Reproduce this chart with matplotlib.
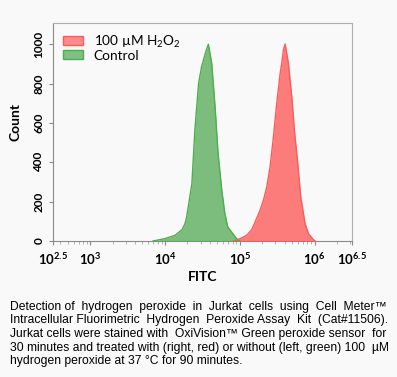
import numpy as np
import matplotlib
matplotlib.use('Agg')
import matplotlib.pyplot as plt
from matplotlib.patches import Patch
from matplotlib.ticker import FixedLocator, LogLocator, NullFormatter

# histogram outlines: log10(FITC) vs count
green_log_fitc = [3.84, 4.00, 4.135, 4.23, 4.27, 4.29, 4.36, 4.40, 4.45, 4.49,
                  4.54, 4.58, 4.625, 4.67, 4.71, 4.76, 4.80, 4.84, 4.89, 4.94, 4.98, 5.00]
green_count = [0, 12, 29, 58, 90, 122, 290, 563, 801, 886,
               954, 1000, 903, 682, 445, 258, 141, 71, 46, 20, 3, 0]

red_log_fitc = [4.915, 5.004, 5.093, 5.160, 5.205, 5.271, 5.316, 5.361, 5.405, 5.450,
                5.494, 5.54, 5.561, 5.583, 5.606, 5.650, 5.695, 5.730, 5.775, 5.815,
                5.873, 5.918, 5.984, 6.007]
red_count = [0, 12, 29, 58, 97, 156, 207, 275, 377, 529,
             699, 852, 903, 970, 1001, 903, 733, 563, 394, 224,
             88, 37, 7, 0]

x_tick_exps = ['2.5', '3', '4', '5', '6', '6.5']
y_ticks = [0, 200, 400, 600, 800, 1000]
series_labels = ['100 µM H$_2$O$_2$', 'Control']

caption_lines = [
    'Detection of hydrogen peroxide in Jurkat cells using Cell Meter\u2122',
    'Intracellular Fluorimetric Hydrogen Peroxide Assay Kit (Cat#11506).',
    'Jurkat cells were stained with OxiVision\u2122 Green peroxide sensor for',
    '30 minutes and treated with (right, red) or without (left, green) 100 µM',
    'hydrogen peroxide at 37 °C for 90 minutes.',
]

plt.rcParams['font.family'] = ['Lato', 'DejaVu Sans']
plt.rcParams['mathtext.fontset'] = 'custom'
plt.rcParams['mathtext.rm'] = 'Lato'
plt.rcParams['mathtext.bf'] = 'Lato:bold'
plt.rcParams['mathtext.it'] = 'Lato:italic'

bg = '#f9f9f9'
W, H = 397, 377
fig = plt.figure(figsize=(W / 100, H / 100), dpi=100, facecolor=bg)
ax = fig.add_axes([52.7 / W, 1 - 241 / H, (352 - 52.7) / W, (241 - 23.3) / H])
ax.set_facecolor(bg)

gx = 10 ** np.array(green_log_fitc)
rx = 10 ** np.array(red_log_fitc)
ax.fill_between(gx, green_count, color='#008000', alpha=0.5, lw=0)
ax.plot(gx, green_count, color='#4cae4c', lw=1)
ax.fill_between(rx, red_count, color='#ff0000', alpha=0.5, lw=0)
ax.plot(rx, red_count, color='#ff5a5a', lw=1)

ax.set_xscale('log')
ax.set_xlim(10 ** 2.5, 10 ** 6.5)
ax.set_ylim(0, 1106)

ax.xaxis.set_major_locator(FixedLocator([10 ** float(e) for e in x_tick_exps]))
ax.set_xticklabels([r'$\mathbf{10^{%s}}$' % e for e in x_tick_exps], fontsize=9.5)
ax.xaxis.set_minor_locator(LogLocator(base=10, subs=np.arange(2, 10)))
ax.xaxis.set_minor_formatter(NullFormatter())
ax.set_yticks(y_ticks)
ax.set_yticklabels([str(v) for v in y_ticks], rotation=90, va='center',
                   fontsize=8.5, fontweight='bold')

ax.tick_params(axis='both', which='major', length=3, width=0.8, color='#888888')
ax.tick_params(axis='y', which='major', pad=3)
ax.tick_params(axis='x', which='major', pad=4)
ax.tick_params(axis='x', which='minor', length=2, width=0.6, color='#aaaaaa')

for side in ['left', 'bottom']:
    ax.spines[side].set_color('#8a8a8a')
for side in ['top', 'right']:
    ax.spines[side].set_color('#b0b0b0')

fig.text(15 / W, 1 - 122 / H, 'Count', rotation=90, ha='center', va='center',
         fontsize=10, fontweight='bold')
fig.text(203 / W, 1 - 277 / H, 'FITC', ha='center', va='center',
         fontsize=10, fontweight='bold')

handles = [Patch(facecolor='#ff8a8a', edgecolor='#ff5a5a'),
           Patch(facecolor='#80c080', edgecolor='#4cae4c')]
ax.legend(handles, series_labels, loc='upper left', frameon=False,
          prop={'size': 9.8}, handlelength=1.45, handleheight=0.65,
          handletextpad=0.8, labelspacing=0.0, borderaxespad=0.35,
          borderpad=0.4)

# caption, justified like the original by padding the gaps with spaces
cap_font = dict(family='Liberation Sans', fontsize=8.7)
left_px, right_px = 10, 388
baselines = [310, 323.5, 337, 350.5, 364]
renderer = fig.canvas.get_renderer()


def text_width(s):
    t = fig.text(0, 0, s, **cap_font)
    w = t.get_window_extent(renderer).width
    t.remove()
    return w


space_w = text_width('a a') - text_width('aa')
for i, line in enumerate(caption_lines):
    words = line.split(' ')
    if i < len(caption_lines) - 1:
        extra = max(0, int(round((right_px - left_px - text_width(line)) / space_w)))
        gaps = len(words) - 1
        # spread the extra spaces evenly over the gaps
        pads = [1 + (k + 1) * extra // gaps - k * extra // gaps for k in range(gaps)]
        line = words[0] + ''.join(' ' * p + w for p, w in zip(pads, words[1:]))
    fig.text(left_px / W, 1 - baselines[i] / H, line, va='baseline', **cap_font)

fig.savefig('out.png', dpi=100, facecolor=bg)
